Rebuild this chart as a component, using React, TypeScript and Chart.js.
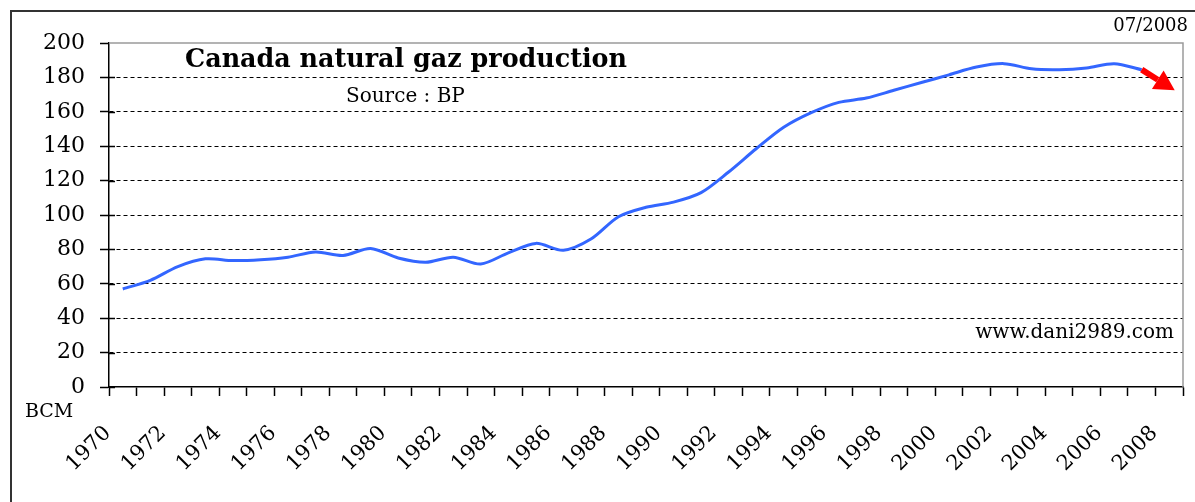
import React, { useEffect, useRef } from "react";
import { Chart, registerables } from "chart.js";
Chart.register(...registerables);

const years = [
  "1970", "1971", "1972", "1973", "1974", "1975", "1976", "1977", "1978", "1979",
  "1980", "1981", "1982", "1983", "1984", "1985", "1986", "1987", "1988", "1989",
  "1990", "1991", "1992", "1993", "1994", "1995", "1996", "1997", "1998", "1999",
  "2000", "2001", "2002", "2003", "2004", "2005", "2006", "2007", "2008",
];
const production = [
  57, 62, 70, 74.5, 73.5, 74, 75.5, 78.5, 76.5, 80.5,
  75, 72.5, 75.5, 71.5, 78, 83.5, 79.5, 86, 99, 104.5,
  107.5, 113, 125, 138.5, 151, 159.5, 165.5, 168, 172.5, 177,
  181.5, 186, 188, 185, 184.5, 185.5, 188, 184.5, null,
];
const yMin = 0;
const yMax = 200;
const yStep = 20;
// arrow annotation: [category index, value]
const arrowStart = [37, 184.5];
const arrowEnd = [38.2, 172.5];

const chartTitle = "Canada natural gaz production";
const sourceText = "Source : BP";
const dateText = "07/2008";
const siteText = "www.dani2989.com";
const unitText = "BCM";

const FONT = "'DejaVu Serif', serif";

const decorPlugin = {
  id: "decor",
  beforeDraw(chart: any) {
    const { ctx } = chart;
    ctx.save();
    ctx.strokeStyle = "#333";
    ctx.lineWidth = 2;
    ctx.beginPath();
    ctx.moveTo(11, 520);
    ctx.lineTo(11, 11);
    ctx.lineTo(1220, 11);
    ctx.stroke();
    ctx.restore();
  },
  afterDraw(chart: any) {
    const { ctx, chartArea } = chart;
    const ys = chart.scales.y;
    const xs = chart.scales.x;
    ctx.save();
    ctx.strokeStyle = "#9a9a9a";
    ctx.lineWidth = 1.5;
    ctx.beginPath();
    ctx.moveTo(chartArea.left, chartArea.top);
    ctx.lineTo(chartArea.right, chartArea.top);
    ctx.lineTo(chartArea.right, chartArea.bottom);
    ctx.stroke();
    ctx.strokeStyle = "#000";
    ctx.lineWidth = 1.5;
    ys.ticks.forEach((t: any) => {
      if (t.value === yMax) return;
      const y = Math.round(ys.getPixelForValue(t.value)) + 0.5;
      ctx.beginPath();
      ctx.moveTo(chartArea.left, y);
      ctx.lineTo(chartArea.left + 6, y);
      ctx.stroke();
    });
    const x1 = xs.getPixelForValue(arrowStart[0]);
    const y1 = ys.getPixelForValue(arrowStart[1]);
    const x2 = xs.getPixelForValue(arrowEnd[0]);
    const y2 = ys.getPixelForValue(arrowEnd[1]);
    const ang = Math.atan2(y2 - y1, x2 - x1);
    const headLen = 20;
    const headW = 11;
    const bx = x2 - headLen * Math.cos(ang);
    const by = y2 - headLen * Math.sin(ang);
    ctx.strokeStyle = "#ff0000";
    ctx.fillStyle = "#ff0000";
    ctx.lineWidth = 6;
    ctx.beginPath();
    ctx.moveTo(x1, y1);
    ctx.lineTo(bx, by);
    ctx.stroke();
    ctx.beginPath();
    ctx.moveTo(x2, y2);
    ctx.lineTo(bx + headW * Math.sin(ang), by - headW * Math.cos(ang));
    ctx.lineTo(bx - headW * Math.sin(ang), by + headW * Math.cos(ang));
    ctx.closePath();
    ctx.fill();
    ctx.restore();
  },
};

export default function App() {
  const ref = useRef<HTMLCanvasElement | null>(null);
  useEffect(() => {
    if (!ref.current) return;
    const chart = new Chart(ref.current, {
      type: "line",
      data: {
        labels: years,
        datasets: [
          {
            data: production,
            borderColor: "#3366ff",
            borderWidth: 3,
            pointRadius: 0,
            tension: 0.3,
            fill: false,
          },
        ],
      },
      options: {
        responsive: false,
        animation: false,
        layout: { padding: { top: 43, right: 12, left: 0, bottom: 0 } },
        plugins: {
          legend: { display: false },
          tooltip: { enabled: false },
          title: { display: false },
        },
        scales: {
          x: {
            type: "category",
            offset: true,
            grid: {
              offset: true,
              drawOnChartArea: false,
              drawTicks: true,
              tickLength: 9,
              tickColor: "#000",
              tickWidth: 1.5,
              color: "#000",
            },
            border: { display: true, color: "#000", width: 1.5 },
            ticks: {
              autoSkip: false,
              minRotation: 45,
              maxRotation: 45,
              padding: 25,
              labelOffset: -15,
              color: "#000",
              font: { family: FONT, size: 21 },
              callback: (_v: any, i: number) => (i % 2 === 0 ? years[i] : ""),
            },
            afterFit: (s: any) => {
              s.height = 502 - 387;
              s.paddingLeft = 0;
              s.paddingRight = 0;
            },
          },
          y: {
            min: yMin,
            max: yMax,
            grid: {
              drawTicks: true,
              tickLength: 9,
              tickColor: "#000",
              tickWidth: 1.5,
              lineWidth: 1,
              color: (c: any) =>
                c.tick && (c.tick.value === yMin || c.tick.value === yMax)
                  ? "rgba(0,0,0,0)"
                  : "#000",
            },
            border: { display: true, color: "#000", width: 1.5, dash: [4, 3] },
            ticks: {
              stepSize: yStep,
              padding: 15,
              color: "#000",
              font: { family: FONT, size: 22 },
            },
            afterFit: (s: any) => {
              s.width = 109;
              s.paddingTop = 0;
              s.paddingBottom = 0;
            },
          },
        },
      },
      plugins: [decorPlugin],
    });
    return () => chart.destroy();
  }, []);

  const txt: React.CSSProperties = {
    position: "absolute",
    fontFamily: FONT,
    lineHeight: 1,
    whiteSpace: "nowrap",
    color: "#000",
  };

  return (
    <div style={{ position: "absolute", left: 0, top: 0, width: 1195, height: 502, overflow: "hidden", background: "#fff" }}>
      <canvas ref={ref} width={1195} height={502} style={{ position: "absolute", left: 0, top: 0 }} />
      <div style={{ ...txt, left: 185, top: 46, fontSize: 25.4, fontWeight: "bold" }}>{chartTitle}</div>
      <div style={{ ...txt, left: 346, top: 85, fontSize: 20 }}>{sourceText}</div>
      <div style={{ ...txt, right: 7, top: 16, fontSize: 18 }}>{dateText}</div>
      <div style={{ ...txt, right: 21, top: 321, fontSize: 20 }}>{siteText}</div>
      <div style={{ ...txt, left: 25, top: 401, fontSize: 19 }}>{unitText}</div>
    </div>
  );
}
